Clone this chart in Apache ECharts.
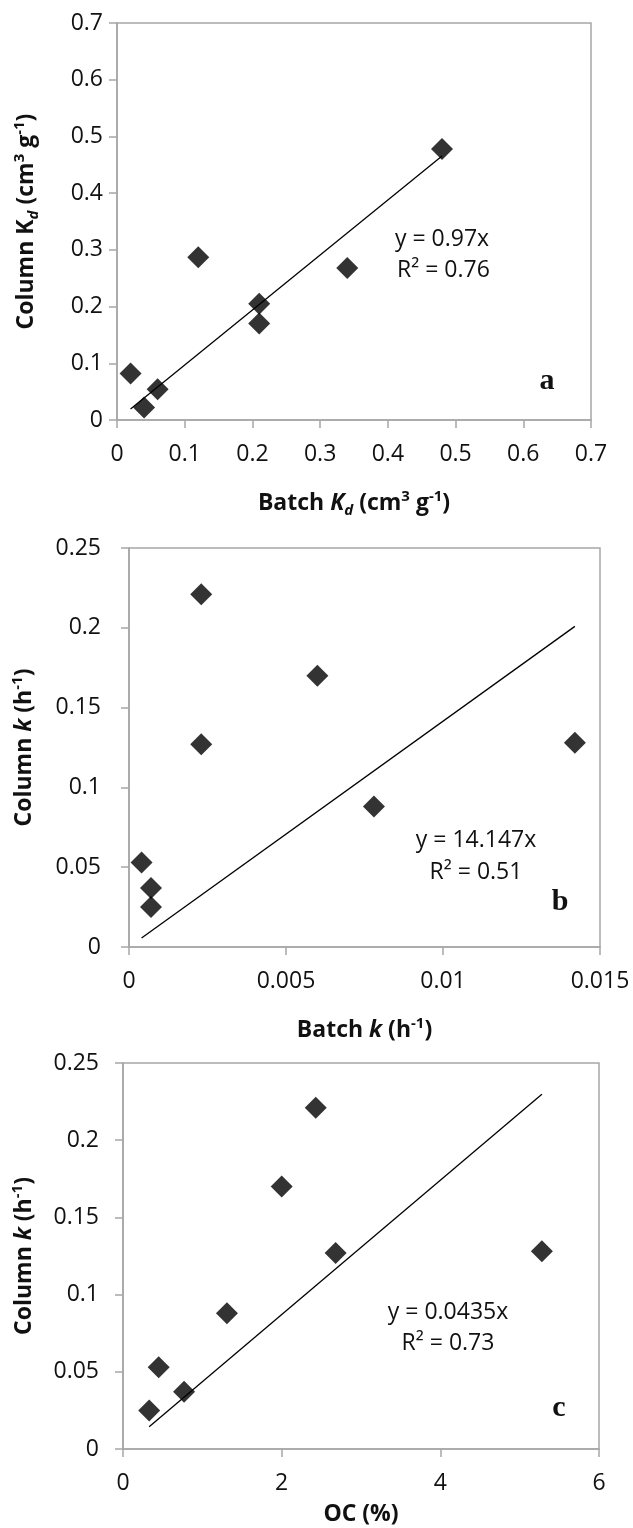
<!DOCTYPE html>
<html><head><meta charset="utf-8">
<script src="https://cdn.jsdelivr.net/npm/echarts@6/dist/echarts.min.js"></script>
<style>html,body{margin:0;padding:0;background:#fff}#c{width:633px;height:1528px}</style>
</head><body><div id="c"></div>
<script>
// Panel a: Kd
const batchKd  = [0.02, 0.04, 0.06, 0.12, 0.21, 0.21, 0.34, 0.48];
const columnKd = [0.082, 0.022, 0.054, 0.287, 0.205, 0.170, 0.268, 0.478];
const trendA   = [[0.02, 0.0194], [0.48, 0.4656]];
// Panel b: k
const batchK   = [0.0004, 0.0007, 0.0007, 0.0023, 0.0023, 0.0060, 0.0078, 0.0142];
const columnK  = [0.053, 0.037, 0.025, 0.221, 0.127, 0.170, 0.088, 0.128];
const trendB   = [[0.0004, 0.0057], [0.0142, 0.2009]];
// Panel c: OC
const ocPct    = [0.45, 0.77, 0.33, 2.43, 2.68, 2.00, 1.31, 5.28];
const trendC   = [[0.33, 0.0144], [5.28, 0.2297]];
// tick settings
const ticksA = {min: 0, max: 0.7, interval: 0.1};
const ticksBx = {min: 0, max: 0.015, interval: 0.005};
const ticksKy = {min: 0, max: 0.25, interval: 0.05};
const ticksCx = {min: 0, max: 6, interval: 2};
const eqA = ['y = 0.97x', 'R² = 0.76'];
const eqB = ['y = 14.147x', 'R² = 0.51'];
const eqC = ['y = 0.0435x', 'R² = 0.73'];
const panelLetters = ['a', 'b', 'c'];

const FONT = '"Open Sans", "Liberation Sans", sans-serif';
const AX = '#a6a6a6';
const rich = {
  b:   {fontFamily: FONT, fontWeight: 'bold', fontSize: 23, color: '#111', lineHeight: 30},
  bi:  {fontFamily: FONT, fontWeight: 'bold', fontStyle: 'italic', fontSize: 23, color: '#111', lineHeight: 30},
  sup: {fontFamily: FONT, fontWeight: 'bold', fontSize: 15, color: '#111', verticalAlign: 'top', lineHeight: 30, padding:[1,0,0,0]},
  sub: {fontFamily: FONT, fontWeight: 'bold', fontSize: 15, color: '#111', verticalAlign: 'bottom', lineHeight: 30},
  subi:{fontFamily: FONT, fontWeight: 'bold', fontStyle: 'italic', fontSize: 15, color: '#111', verticalAlign: 'bottom', lineHeight: 30}
};
const fmt = v => String(+(+v).toFixed(4));
function xAxis(i, ticks, name, gap) {
  return Object.assign({
    type: 'value', gridIndex: i, name: name, nameLocation: 'middle', nameGap: gap,
    nameTextStyle: {rich: rich},
    axisLine: {show: true, onZero: false, lineStyle: {color: AX, width: 1.5}},
    axisTick: {show: true, inside: false, length: 8, lineStyle: {color: AX, width: 1.5}},
    axisLabel: {fontFamily: FONT, fontSize: 23, color: '#111', margin: 23, formatter: fmt},
    splitLine: {show: false}
  }, ticks);
}
function yAxis(i, ticks, name, gap, lm) {
  return Object.assign({
    type: 'value', gridIndex: i, name: name, nameLocation: 'middle', nameGap: gap, nameRotate: 90,
    nameTextStyle: {rich: rich},
    axisLine: {show: true, onZero: false, lineStyle: {color: AX, width: 1.5}},
    axisTick: {show: true, inside: false, length: 8, lineStyle: {color: AX, width: 1.5}},
    axisLabel: {fontFamily: FONT, fontSize: 23, color: '#111', margin: lm, formatter: fmt},
    splitLine: {show: false}
  }, ticks);
}
const zip = (xs, ys) => xs.map((x, i) => [x, ys[i]]);
function pts(i, data) {
  return {type: 'scatter', xAxisIndex: i, yAxisIndex: i, data: data, symbol: 'diamond',
    symbolSize: [22, 22], itemStyle: {color: '#000'}, z: 5, silent: true};
}
function trend(i, data) {
  return {type: 'line', xAxisIndex: i, yAxisIndex: i, data: data, symbol: 'none',
    lineStyle: {color: '#000', width: 1.3}, z: 4, silent: true};
}
const gridStyle = {show: true, borderColor: AX, borderWidth: 1.5, containLabel: false};
function txt(t, x, y, align, font) {
  return {type: 'text', x: x, y: y, style: {text: t, font: font, textAlign: align, textVerticalAlign: 'middle', fill: '#111'}};
}
const eqFont = '23px "Open Sans", sans-serif';
const letFont = 'bold 30px "Liberation Serif", serif';

const chart = echarts.init(document.getElementById('c'), null, {renderer: 'canvas'});
chart.setOption({
  backgroundColor: '#fff',
  animation: false,
  grid: [
    Object.assign({left: 117, top: 23, width: 474, height: 397}, gridStyle),
    Object.assign({left: 129, top: 548, width: 471, height: 399}, gridStyle),
    Object.assign({left: 123, top: 1063, width: 476, height: 386}, gridStyle)
  ],
  xAxis: [
    xAxis(0, ticksA, '{b|Batch }{bi|K}{subi|d}{b| (cm}{sup|3}{b| g}{sup|-1}{b|)}', 68),
    xAxis(1, ticksBx, '{b|Batch }{bi|k}{b| (h}{sup|-1}{b|)}', 68),
    xAxis(2, ticksCx, '{b|OC (%)}', 50)
  ],
  yAxis: [
    yAxis(0, ticksA, '{b|Column K}{subi|d}{b| (cm}{sup|3}{b| g}{sup|-1}{b|)}', 76, 14),
    yAxis(1, ticksKy, '{b|Column }{bi|k}{b| (h}{sup|-1}{b|)}', 90, 28),
    yAxis(2, ticksKy, '{b|Column }{bi|k}{b| (h}{sup|-1}{b|)}', 84, 24)
  ],
  series: [
    pts(0, zip(batchKd, columnKd)), trend(0, trendA),
    pts(1, zip(batchK, columnK)), trend(1, trendB),
    pts(2, zip(ocPct, columnK)), trend(2, trendC)
  ],
  graphic: [
    txt(eqA[0], 395, 239, 'left', eqFont), txt(eqA[1], 397, 270, 'left', eqFont),
    txt(eqB[0], 476, 840, 'center', eqFont), txt(eqB[1], 476, 872, 'center', eqFont),
    txt(eqC[0], 448, 1312, 'center', eqFont), txt(eqC[1], 448, 1343, 'center', eqFont),
    txt(panelLetters[0], 547, 381, 'center', letFont),
    txt(panelLetters[1], 560, 902, 'center', letFont),
    txt(panelLetters[2], 559, 1408, 'center', letFont)
  ]
});
</script></body></html>
